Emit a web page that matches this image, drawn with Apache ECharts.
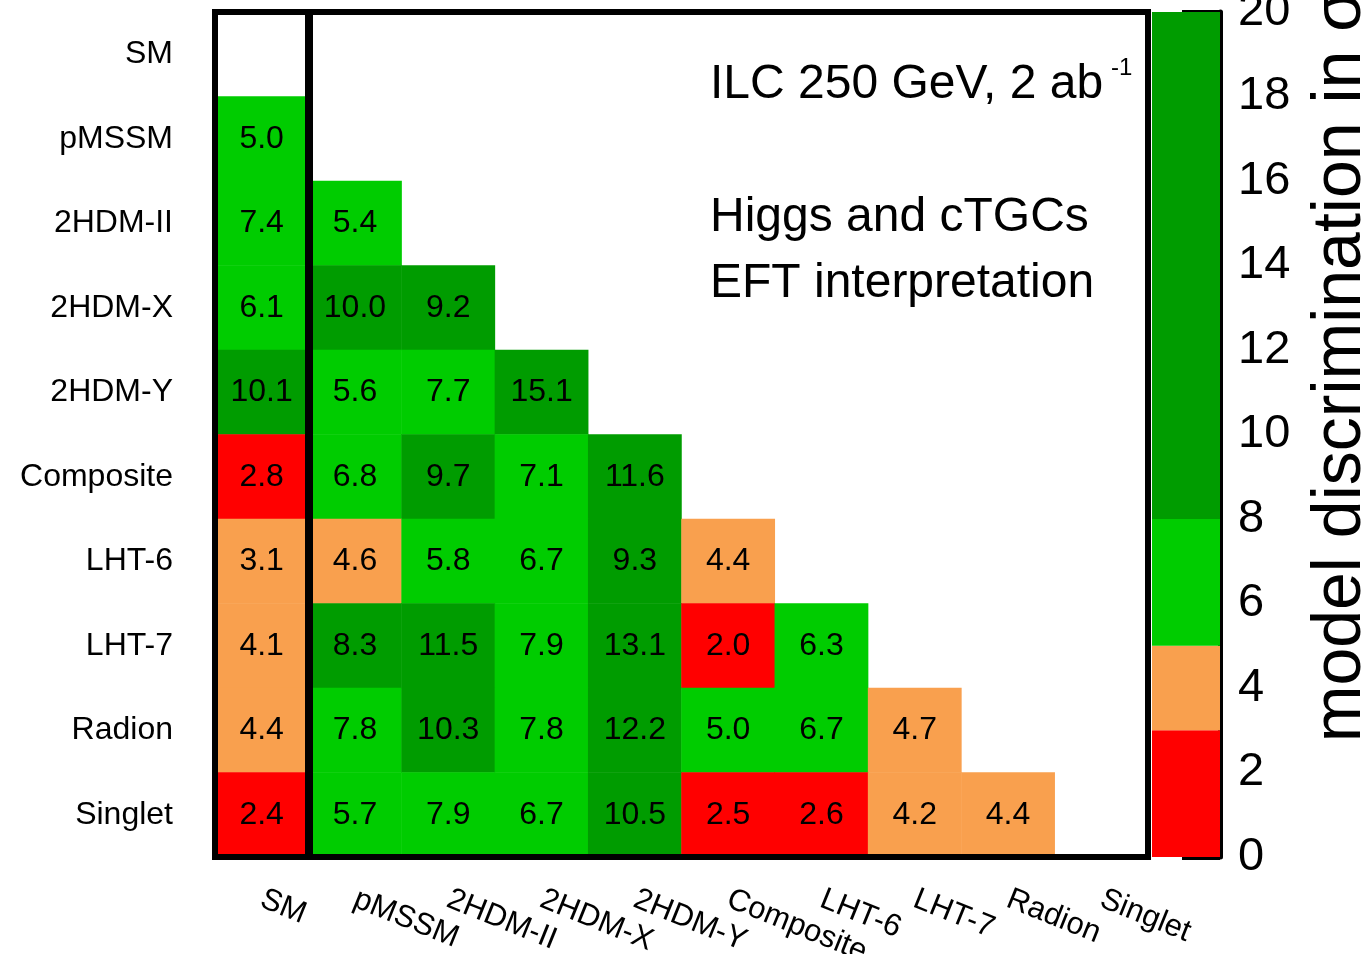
<!DOCTYPE html>
<html>
<head>
<meta charset="utf-8">
<script src="https://cdn.jsdelivr.net/npm/echarts@6/dist/echarts.min.js"></script>
<style>
html,body{margin:0;padding:0;background:#fff}
#c{width:1366px;height:954px}
</style>
</head>
<body>
<div id="c"></div>
<script>
const FONT = '"Liberation Sans", Arial, Helvetica, sans-serif';

const models = ['SM','pMSSM','2HDM-II','2HDM-X','2HDM-Y','Composite','LHT-6','LHT-7','Radion','Singlet'];
// lower triangle, row i holds the values against columns 0..i-1
const rowSM = [];
const rowPMSSM = [5.0];
const row2HDMII = [7.4, 5.4];
const row2HDMX = [6.1, 10.0, 9.2];
const row2HDMY = [10.1, 5.6, 7.7, 15.1];
const rowComposite = [2.8, 6.8, 9.7, 7.1, 11.6];
const rowLHT6 = [3.1, 4.6, 5.8, 6.7, 9.3, 4.4];
const rowLHT7 = [4.1, 8.3, 11.5, 7.9, 13.1, 2.0, 6.3];
const rowRadion = [4.4, 7.8, 10.3, 7.8, 12.2, 5.0, 6.7, 4.7];
const rowSinglet = [2.4, 5.7, 7.9, 6.7, 10.5, 2.5, 2.6, 4.2, 4.4];
const rows = [rowSM,rowPMSSM,row2HDMII,row2HDMX,row2HDMY,rowComposite,rowLHT6,rowLHT7,rowRadion,rowSinglet];

// colour scale bands
const cbEdges = [0, 3, 5, 8, 20];
const cbColors = ['#ff0000', '#f9a04e', '#00cc00', '#009c00'];
const cbTicks = [0,2,4,6,8,10,12,14,16,18,20];

const data = [];
rows.forEach((r,i)=>r.forEach((v,j)=>data.push([j,i,v])));

const pieces = cbColors.map((c,i)=> i<cbColors.length-1
  ? {gte:cbEdges[i], lt:cbEdges[i+1], color:c}
  : {gte:cbEdges[i], lte:cbEdges[i+1], color:c});

const chart = echarts.init(document.getElementById('c'));
chart.setOption({
  backgroundColor:'#fff',
  animation:false,
  textStyle:{fontFamily:FONT},
  grid:[
    {left:215, right:218, top:12, bottom:97, outerBoundsMode:'none', containLabel:false,
     show:true, borderColor:'#000', borderWidth:6, backgroundColor:'transparent', z:10},
    {left:1152, right:146, top:12, bottom:97, outerBoundsMode:'none', containLabel:false}
  ],
  xAxis:[
    {type:'category', gridIndex:0, data:models, axisLine:{show:false}, axisTick:{show:false}, splitLine:{show:false},
     axisLabel:{rotate:-22, margin:41, fontSize:31, color:'#000', fontFamily:FONT, interval:0}},
    {type:'value', gridIndex:0, min:0, max:10, show:false},
    {type:'category', gridIndex:1, data:[''], show:false}
  ],
  yAxis:[
    {type:'category', gridIndex:0, data:models, inverse:true, axisLine:{show:false}, axisTick:{show:false}, splitLine:{show:false},
     axisLabel:{margin:42, fontSize:32, color:'#000', fontFamily:FONT}},
    {type:'value', gridIndex:1, min:cbTicks[0], max:cbTicks[cbTicks.length-1], interval:2, position:'right',
     axisLine:{show:true, lineStyle:{color:'#000', width:5}},
     axisTick:{show:true, inside:true, length:38, lineStyle:{color:'#000', width:5}},
     splitLine:{show:false},
     axisLabel:{fontSize:47, color:'#000', margin:18, fontFamily:FONT}}
  ],
  visualMap:{type:'piecewise', show:false, seriesIndex:0, dimension:2, pieces:pieces},
  graphic:[
    {type:'text', left:710, top:61, style:{text:'ILC 250 GeV, 2 ab', fontSize:48, fill:'#000', fontFamily:FONT}},
    {type:'text', left:1111, top:56, style:{text:'-1', fontSize:24, fill:'#000', fontFamily:FONT}},
    {type:'text', left:710, top:194, style:{text:'Higgs and cTGCs', fontSize:48, fill:'#000', fontFamily:FONT}},
    {type:'text', left:710, top:260, style:{text:'EFT interpretation', fontSize:48, fill:'#000', fontFamily:FONT}},
    {type:'text', x:1341, y:366, rotation:Math.PI/2,
     style:{text:'model discrimination in σ', fontSize:68, fill:'#000', fontFamily:FONT, align:'center', verticalAlign:'middle'}}
  ],
  series:[
    {type:'heatmap', xAxisIndex:0, yAxisIndex:0, data:data,
     label:{show:true, fontSize:32, color:'#000', fontFamily:FONT, formatter:p=>p.value[2].toFixed(1)},
     itemStyle:{borderWidth:0}},
    {type:'line', xAxisIndex:1, yAxisIndex:0, data:[], z:5,
     markLine:{symbol:'none', silent:true, label:{show:false}, lineStyle:{color:'#000', width:8, type:'solid'}, data:[{xAxis:1}]}}
  ].concat(cbColors.map((c,i)=>({
    type:'bar', xAxisIndex:2, yAxisIndex:1, stack:'cb', barWidth:'100%', silent:true,
    data:[cbEdges[i+1]-cbEdges[i]], itemStyle:{color:c}
  })))
});
</script>
</body>
</html>
